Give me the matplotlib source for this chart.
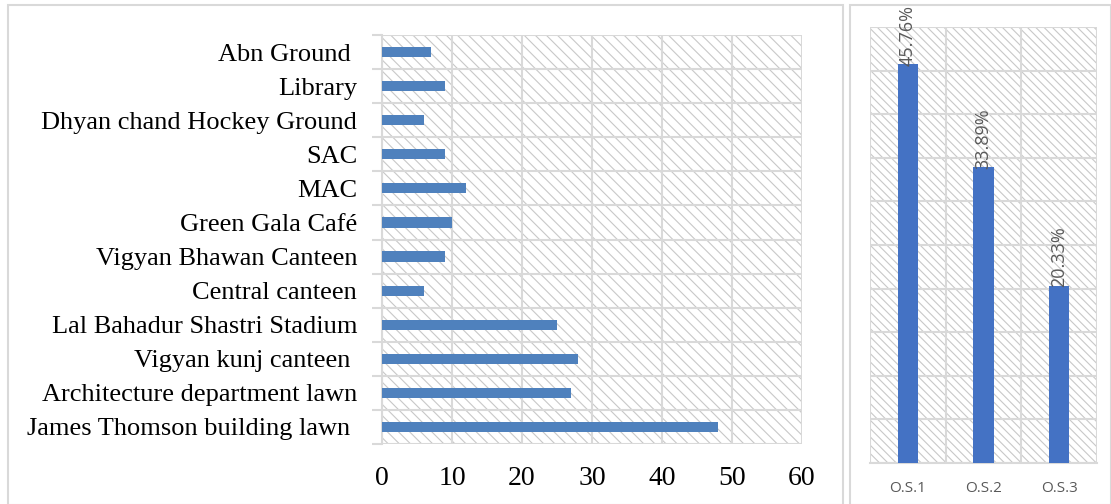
import matplotlib
matplotlib.use("Agg")
import matplotlib.pyplot as plt
from matplotlib.patches import Rectangle

places = ["Abn Ground ", "Library", "Dhyan chand Hockey Ground", "SAC", "MAC",
          "Green Gala Café", "Vigyan Bhawan Canteen", "Central canteen",
          "Lal Bahadur Shastri Stadium", "Vigyan kunj canteen ",
          "Architecture department lawn", "James Thomson building lawn "]
counts = [7, 9, 6, 9, 12, 10, 9, 6, 25, 28, 27, 48]
x_ticks = [0, 10, 20, 30, 40, 50, 60]

os_labels = ["O.S.1", "O.S.2", "O.S.3"]
os_values = [45.76, 33.89, 20.33]

BLUE_L = "#4f81bd"
BLUE_R = "#4472c4"
GRID = "#d9d9d9"

plt.rcParams['hatch.linewidth'] = 0.8
plt.rcParams['hatch.color'] = "#c8c8c8"

fig = plt.figure(figsize=(11.11, 5.04), dpi=100)

# panel borders
fig.patches.append(Rectangle((8/1111, 1-505/504), (843-8)/1111, (505-5)/504,
                             transform=fig.transFigure, fill=False, edgecolor=GRID, lw=1.5))
fig.patches.append(Rectangle((850/1111, 1-505/504), (1111-850)/1111, (505-5)/504,
                             transform=fig.transFigure, fill=False, edgecolor=GRID, lw=1.5))

# ---- left panel ----
axL = fig.add_axes([382/1111, 1-444/504, (802-382)/1111, (444-35)/504])
n = len(places)
ypos = list(range(n))[::-1]
axL.add_patch(Rectangle((0, 0), 1, 1, transform=axL.transAxes, facecolor="white",
                        hatch="\\\\\\", edgecolor="#c8c8c8", lw=0, zorder=0))
axL.barh(ypos, counts, height=0.3, color=BLUE_L, zorder=3)
axL.set_xlim(0, 60)
axL.set_ylim(-0.5, n - 0.5)
axL.set_xticks(x_ticks)
axL.set_xticklabels([str(v) for v in x_ticks], fontfamily="Liberation Serif", fontsize=20)
axL.tick_params(axis="x", length=0, pad=16)
axL.set_yticks(ypos)
axL.set_yticklabels(places, fontfamily="Liberation Serif", fontsize=19)
axL.tick_params(axis="y", length=0, pad=18)
axL.set_yticks([i - 0.5 for i in range(n + 1)], minor=True)
axL.tick_params(axis="y", which="minor", length=7, color=GRID, width=1.5)
axL.grid(True, axis="x", color=GRID, lw=1.5, zorder=1)
axL.grid(True, axis="y", which="minor", color=GRID, lw=1.5, zorder=1)
axL.set_axisbelow(True)
for s in ["top", "right", "bottom"]:
    axL.spines[s].set_visible(False)
axL.spines["left"].set_color(GRID)
axL.spines["left"].set_linewidth(1.5)

# ---- right panel ----
axR = fig.add_axes([870/1111, 1-463/504, (1097-870)/1111, (463-27)/504])
axR.add_patch(Rectangle((0, 0), 1, 1, transform=axR.transAxes, facecolor="white",
                        hatch="\\\\\\\\", edgecolor="#c8c8c8", lw=0, zorder=0))
xr = range(len(os_labels))
axR.bar(xr, os_values, width=0.27, color=BLUE_R, zorder=3)
axR.set_ylim(0, 50)
axR.set_xlim(-0.5, len(os_labels) - 0.5)
axR.set_yticks(range(0, 51, 5))
axR.set_yticklabels([])
axR.tick_params(axis="y", length=0)
axR.set_xticks(list(xr))
axR.set_xticklabels(os_labels, fontfamily="Open Sans", fontsize=11, color="#595959")
axR.tick_params(axis="x", length=0, pad=13)
axR.set_xticks([i - 0.5 for i in range(len(os_labels) + 1)], minor=True)
axR.tick_params(axis="x", which="minor", length=0)
axR.grid(True, axis="y", color=GRID, lw=1.5, zorder=1)
axR.grid(True, axis="x", which="minor", color=GRID, lw=1.5, zorder=1)
axR.set_axisbelow(True)
for s in ["top", "right", "left"]:
    axR.spines[s].set_visible(False)
axR.spines["bottom"].set_color(GRID)
axR.spines["bottom"].set_linewidth(1.5)
for xi, v in zip(xr, os_values):
    axR.text(xi, v - 0.2, f"{v:.2f}%", rotation=90, ha="center", va="bottom",
             fontfamily="Open Sans", fontsize=13, color="#595959", zorder=4)

fig.savefig("out.png", dpi=100)
